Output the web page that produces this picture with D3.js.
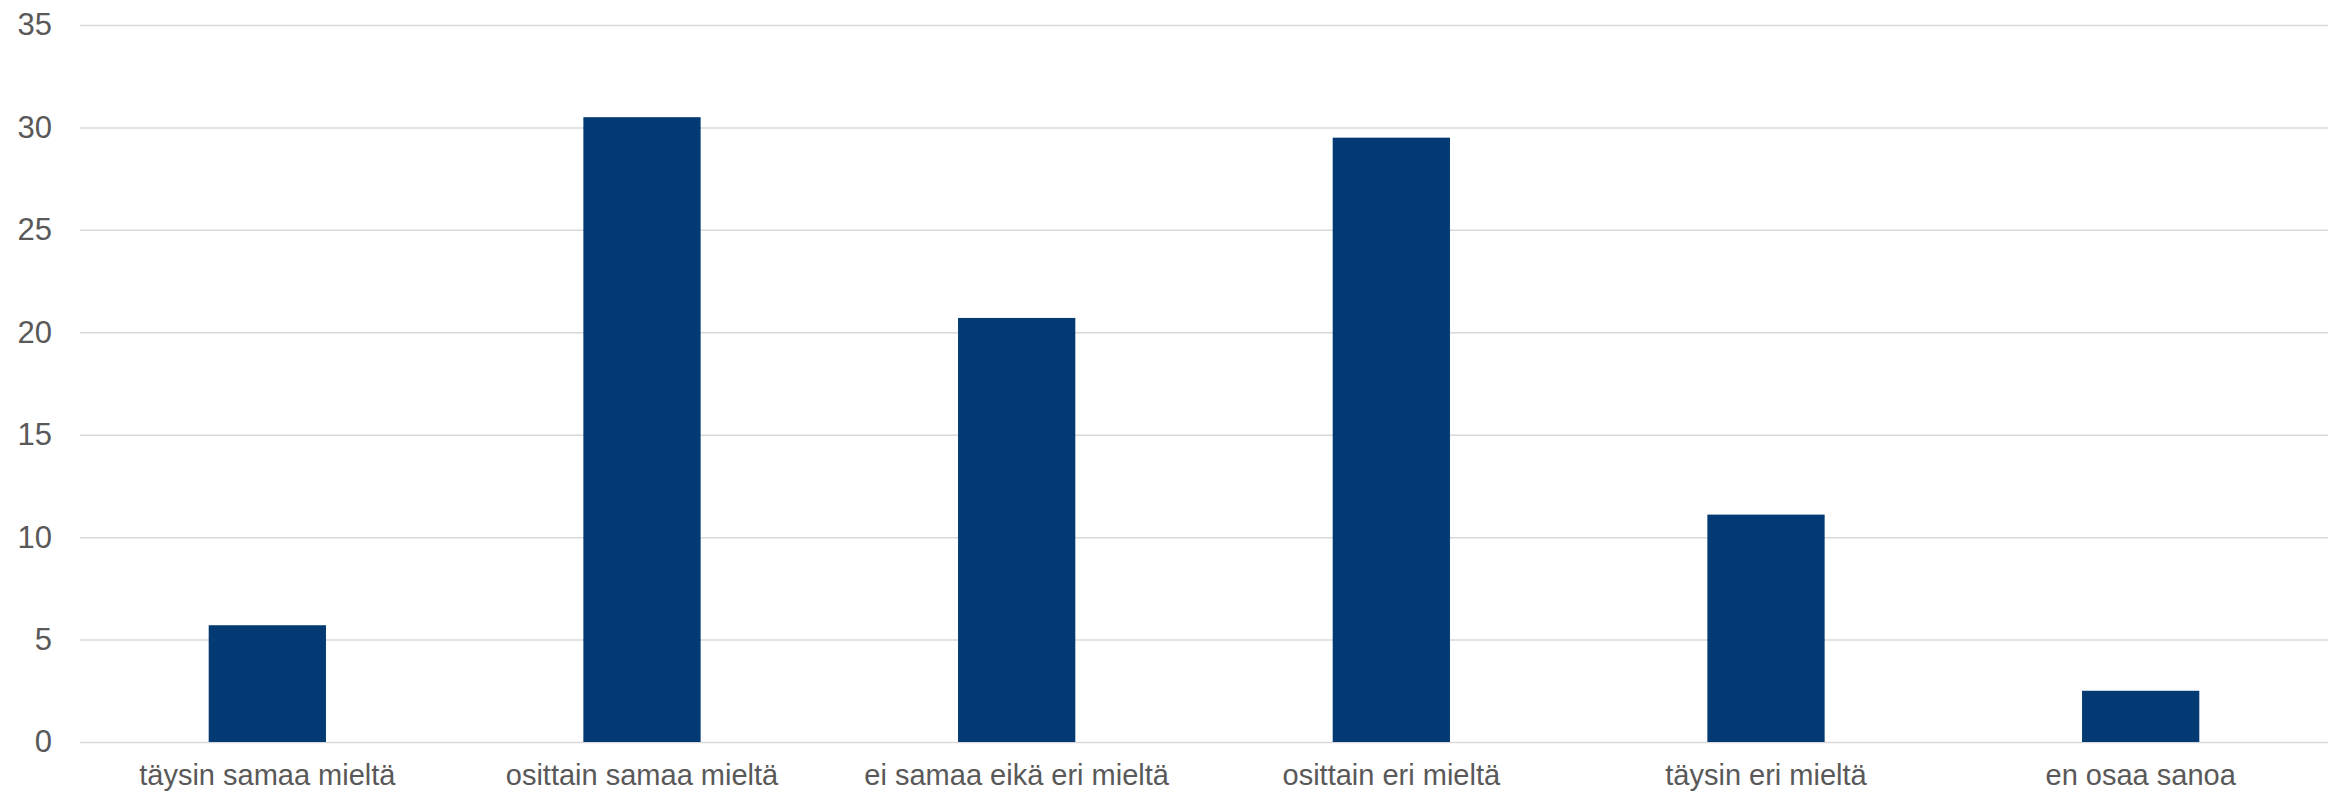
<!DOCTYPE html>
<html>
<head>
<meta charset="utf-8">
<script src="https://cdn.jsdelivr.net/npm/d3@7"></script>
<style>
  body { margin: 0; background: #fff; }
  text { font-family: "Liberation Sans", Arial, sans-serif; fill: #595959; }
</style>
</head>
<body>
<figure id="chart" style="margin:0"></figure>
<script>
// data
var categories = ["täysin samaa mieltä", "osittain samaa mieltä", "ei samaa eikä eri mieltä",
                  "osittain eri mieltä", "täysin eri mieltä", "en osaa sanoa"];
var values = [5.7, 30.5, 20.7, 29.5, 11.1, 2.5];
var yTicks = [0, 5, 10, 15, 20, 25, 30, 35];

// set the dimensions and margins of the graph
var margin = {top: 25, right: 8, bottom: 51, left: 80},
    width = 2336 - margin.left - margin.right,
    height = 793 - margin.top - margin.bottom;

var svg = d3.select("figure#chart")
    .append("svg")
    .attr("width", width + margin.left + margin.right)
    .attr("height", height + margin.top + margin.bottom)
    .append("g")
    .attr("transform", "translate(" + margin.left + "," + margin.top + ")");

// x: one band per answer
var x = d3.scaleBand()
    .domain(categories)
    .range([0, width])
    .padding(0);

var y = d3.scaleLinear()
    .domain([0, 35])
    .range([height, 0]);

// gridlines + y labels
var yAxis = svg.append("g")
    .call(d3.axisLeft(y).tickValues(yTicks).tickSize(-width).tickPadding(28));
yAxis.select(".domain").remove();
yAxis.selectAll(".tick line").attr("stroke", "#d9d9d9").attr("stroke-width", 1.5);
yAxis.selectAll(".tick text").style("font-size", "31px").attr("fill", "#595959");

// bars
var barW = x.bandwidth() * 0.313;
svg.append("g")
    .selectAll("rect")
    .data(values)
    .enter().append("rect")
    .attr("x", function(d, i) { return x(categories[i]) + (x.bandwidth() - barW) / 2; })
    .attr("y", function(d) { return y(d); })
    .attr("width", barW)
    .attr("height", function(d) { return y(0) - y(d); })
    .attr("fill", "#033a73");

// x labels
var xAxis = svg.append("g")
    .attr("transform", "translate(0," + height + ")")
    .call(d3.axisBottom(x).tickSize(0).tickPadding(22));
xAxis.select(".domain").remove();
xAxis.selectAll(".tick text").style("font-size", "29px").attr("fill", "#595959");
</script>
</body>
</html>
